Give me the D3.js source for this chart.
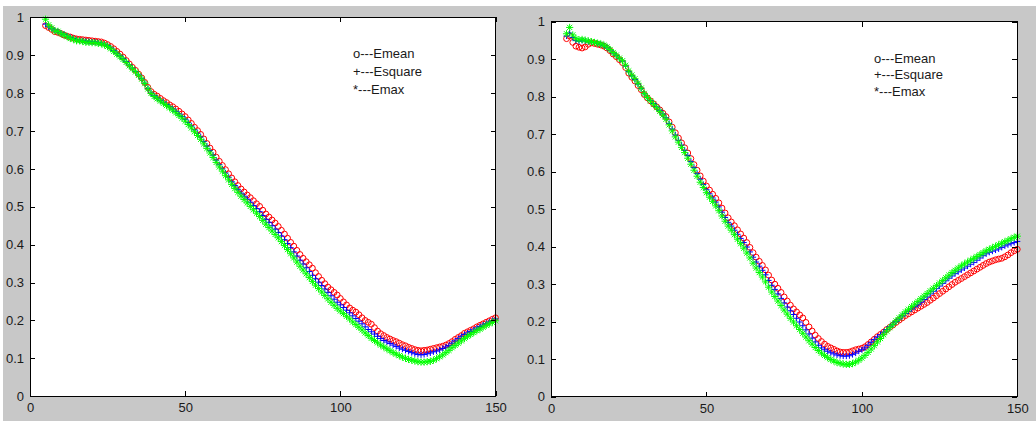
<!DOCTYPE html>
<html>
<head>
<meta charset="utf-8">
<script src="https://cdn.jsdelivr.net/npm/d3@7"></script>
<style>
  html, body { margin: 0; padding: 0; background: #fff; }
  svg { display: block; font-family: "Liberation Sans", Arial, sans-serif; }
</style>
</head>
<body>
<div id="chart"></div>
<script>
// sample index (x axis)
var xIdx = [5,6,7,8,9,10,11,12,13,14,15,16,17,18,19,20,21,22,23,24,25,26,27,28,29,30,
  31,32,33,34,35,36,37,38,39,40,41,42,43,44,45,46,47,48,49,50,51,52,53,54,55,56,57,58,59,60,
  61,62,63,64,65,66,67,68,69,70,71,72,73,74,75,76,77,78,79,80,81,82,83,84,85,86,87,88,89,90,
  91,92,93,94,95,96,97,98,99,100,101,102,103,104,105,106,107,108,109,110,111,112,113,114,115,
  116,117,118,119,120,121,122,123,124,125,126,127,128,129,130,131,132,133,134,135,136,137,138,
  139,140,141,142,143,144,145,146,147,148,149,150];

// left figure
var leftMean = [0.978,0.973,0.968,0.962,0.960,0.957,0.953,0.950,0.948,0.945,0.943,0.942,0.941,0.940,0.939,0.938,0.937,0.936,0.935,0.932,
  0.928,0.923,0.917,0.910,0.903,0.895,0.886,0.877,0.868,0.860,0.850,0.840,0.828,0.815,0.804,0.797,0.792,0.786,0.780,0.775,
  0.769,0.764,0.758,0.752,0.745,0.738,0.729,0.720,0.710,0.701,0.691,0.679,0.667,0.655,0.644,0.631,0.620,0.609,0.598,0.587,
  0.576,0.566,0.556,0.547,0.539,0.531,0.524,0.516,0.508,0.501,0.491,0.481,0.473,0.465,0.457,0.448,0.438,0.428,0.417,0.406,
  0.396,0.385,0.374,0.364,0.355,0.347,0.338,0.326,0.316,0.306,0.297,0.288,0.281,0.274,0.267,0.258,0.249,0.241,0.233,0.227,
  0.222,0.215,0.207,0.200,0.195,0.190,0.181,0.172,0.165,0.160,0.155,0.151,0.147,0.144,0.140,0.136,0.133,0.129,0.126,0.123,
  0.121,0.120,0.121,0.122,0.124,0.126,0.128,0.130,0.132,0.135,0.139,0.144,0.150,0.155,0.160,0.166,0.170,0.174,0.178,0.183,
  0.187,0.191,0.195,0.199,0.203,0.207];
var leftSquare = [0.982,0.975,0.970,0.966,0.962,0.958,0.955,0.950,0.947,0.944,0.941,0.940,0.938,0.937,0.936,0.935,0.935,0.933,0.932,0.929,
  0.925,0.919,0.912,0.905,0.898,0.891,0.883,0.874,0.866,0.857,0.848,0.838,0.826,0.812,0.800,0.793,0.787,0.781,0.776,0.770,
  0.764,0.758,0.752,0.745,0.738,0.731,0.722,0.713,0.703,0.694,0.684,0.672,0.660,0.648,0.636,0.623,0.611,0.600,0.589,0.578,
  0.566,0.556,0.546,0.536,0.528,0.520,0.512,0.503,0.495,0.487,0.477,0.467,0.459,0.450,0.441,0.432,0.423,0.413,0.403,0.392,
  0.381,0.370,0.359,0.349,0.339,0.329,0.319,0.310,0.301,0.292,0.283,0.274,0.265,0.256,0.248,0.241,0.234,0.227,0.220,0.212,
  0.205,0.198,0.191,0.183,0.176,0.170,0.164,0.158,0.152,0.147,0.143,0.139,0.135,0.131,0.127,0.124,0.121,0.118,0.115,0.112,
  0.110,0.109,0.110,0.112,0.114,0.117,0.119,0.122,0.126,0.130,0.134,0.140,0.146,0.152,0.158,0.163,0.167,0.171,0.175,0.180,
  0.184,0.188,0.192,0.196,0.200,0.204];
var leftMax = [0.995,0.980,0.972,0.964,0.963,0.957,0.953,0.949,0.944,0.942,0.938,0.938,0.936,0.934,0.934,0.933,0.933,0.931,0.930,0.927,
  0.923,0.917,0.910,0.903,0.896,0.889,0.881,0.872,0.864,0.856,0.847,0.837,0.825,0.811,0.799,0.791,0.785,0.779,0.773,0.767,
  0.761,0.755,0.748,0.741,0.734,0.726,0.717,0.708,0.698,0.688,0.678,0.666,0.654,0.642,0.630,0.617,0.605,0.594,0.582,0.571,
  0.559,0.548,0.538,0.528,0.519,0.510,0.501,0.492,0.483,0.474,0.464,0.454,0.445,0.436,0.427,0.418,0.408,0.398,0.387,0.376,
  0.365,0.354,0.343,0.333,0.323,0.313,0.303,0.293,0.284,0.275,0.266,0.257,0.248,0.240,0.232,0.225,0.218,0.211,0.204,0.196,
  0.189,0.182,0.175,0.167,0.160,0.153,0.147,0.141,0.135,0.130,0.125,0.120,0.115,0.111,0.107,0.103,0.100,0.097,0.095,0.093,
  0.091,0.090,0.090,0.091,0.092,0.095,0.099,0.104,0.109,0.115,0.121,0.128,0.134,0.140,0.146,0.152,0.158,0.163,0.168,0.173,
  0.177,0.182,0.187,0.191,0.195,0.199];

// right figure
var rightMean = [0.955,0.962,0.945,0.935,0.932,0.930,0.933,0.940,0.944,0.942,0.940,0.938,0.935,0.930,0.923,0.914,0.907,0.899,0.891,0.878,
  0.863,0.852,0.842,0.830,0.819,0.806,0.797,0.789,0.781,0.773,0.765,0.756,0.747,0.733,0.719,0.704,0.690,0.677,0.664,0.650,
  0.635,0.619,0.604,0.589,0.575,0.562,0.551,0.540,0.529,0.517,0.503,0.490,0.477,0.466,0.456,0.445,0.434,0.423,0.411,0.398,
  0.384,0.372,0.361,0.350,0.338,0.324,0.311,0.300,0.289,0.278,0.266,0.255,0.244,0.234,0.226,0.218,0.210,0.198,0.186,0.175,
  0.164,0.155,0.147,0.140,0.134,0.130,0.126,0.122,0.119,0.118,0.118,0.119,0.122,0.125,0.127,0.129,0.133,0.139,0.146,0.153,
  0.160,0.166,0.172,0.179,0.185,0.191,0.198,0.204,0.210,0.216,0.221,0.226,0.231,0.236,0.241,0.246,0.251,0.257,0.263,0.269,
  0.275,0.281,0.287,0.293,0.299,0.305,0.310,0.315,0.320,0.325,0.330,0.335,0.340,0.345,0.350,0.355,0.359,0.362,0.365,0.367,
  0.369,0.373,0.378,0.384,0.389,0.393];
var rightSquare = [0.962,0.970,0.958,0.950,0.948,0.950,0.949,0.947,0.946,0.944,0.942,0.940,0.937,0.932,0.925,0.917,0.910,0.902,0.895,0.882,
  0.867,0.856,0.846,0.834,0.822,0.808,0.798,0.790,0.782,0.773,0.764,0.754,0.744,0.729,0.714,0.698,0.684,0.671,0.657,0.643,
  0.627,0.611,0.595,0.580,0.566,0.552,0.541,0.530,0.519,0.506,0.492,0.478,0.465,0.455,0.444,0.433,0.422,0.411,0.399,0.386,
  0.372,0.359,0.348,0.337,0.325,0.310,0.297,0.286,0.274,0.262,0.250,0.239,0.229,0.219,0.209,0.199,0.189,0.178,0.167,0.156,
  0.146,0.137,0.130,0.125,0.121,0.117,0.114,0.111,0.109,0.108,0.108,0.109,0.112,0.116,0.121,0.125,0.130,0.137,0.145,0.152,
  0.159,0.165,0.172,0.179,0.186,0.193,0.200,0.207,0.215,0.222,0.228,0.234,0.240,0.245,0.252,0.259,0.266,0.274,0.281,0.288,
  0.295,0.302,0.309,0.316,0.322,0.328,0.333,0.338,0.343,0.348,0.353,0.358,0.364,0.370,0.376,0.381,0.385,0.388,0.391,0.394,
  0.398,0.402,0.405,0.408,0.411,0.414];
var rightMax = [0.968,0.985,0.965,0.955,0.952,0.953,0.951,0.949,0.947,0.945,0.943,0.941,0.938,0.933,0.926,0.918,0.911,0.903,0.896,0.884,
  0.869,0.858,0.848,0.836,0.823,0.809,0.798,0.789,0.780,0.771,0.761,0.751,0.740,0.725,0.709,0.693,0.679,0.665,0.651,0.636,
  0.620,0.604,0.588,0.572,0.558,0.544,0.532,0.521,0.509,0.496,0.482,0.468,0.455,0.444,0.432,0.420,0.408,0.396,0.383,0.370,
  0.356,0.343,0.331,0.319,0.306,0.292,0.279,0.267,0.255,0.243,0.231,0.220,0.209,0.199,0.189,0.179,0.169,0.159,0.149,0.140,
  0.131,0.123,0.116,0.110,0.104,0.099,0.095,0.091,0.089,0.087,0.086,0.086,0.088,0.092,0.097,0.103,0.110,0.118,0.127,0.136,
  0.146,0.155,0.165,0.175,0.184,0.193,0.202,0.210,0.218,0.226,0.233,0.240,0.247,0.254,0.261,0.268,0.275,0.282,0.289,0.296,
  0.303,0.310,0.317,0.324,0.331,0.337,0.343,0.349,0.354,0.359,0.364,0.369,0.374,0.379,0.384,0.389,0.393,0.397,0.401,0.405,
  0.409,0.413,0.417,0.421,0.425,0.428];

var xTicks = [0, 50, 100, 150];
var yTicks = [0, 0.1, 0.2, 0.3, 0.4, 0.5, 0.6, 0.7, 0.8, 0.9, 1];
var legendLabels = ["o---Emean", "+---Esquare", "*---Emax"];

var svg = d3.select("#chart")
  .append("svg")
  .attr("width", 1036)
  .attr("height", 424);

// figure background (grey, thin white margin round it)
svg.append("rect")
  .attr("x", 3).attr("y", 6)
  .attr("width", 1033).attr("height", 415)
  .attr("fill", "#c8c8c8");

var plusPath = "M-3,0H3M0,-3V3";
var starPath = "M-3.6,0H3.6M0,-3.6V3.6M-2.6,-2.6L2.6,2.6M-2.6,2.6L2.6,-2.6";

function drawPanel(left, right, top, bottom, legendGap, mean, square, max) {
  var x = d3.scaleLinear().domain([0, 150]).range([left, right]);
  var y = d3.scaleLinear().domain([0, 1]).range([bottom, top]);

  var g = svg.append("g");

  g.append("rect")
    .attr("x", left).attr("y", top)
    .attr("width", right - left).attr("height", bottom - top)
    .attr("fill", "#fff");

  // Emean: red circles
  g.append("g").selectAll("circle")
    .data(mean)
    .join("circle")
    .attr("cx", function(d, i) { return x(xIdx[i]); })
    .attr("cy", function(d) { return y(d); })
    .attr("r", 2.9)
    .attr("fill", "none")
    .attr("stroke", "#ff0000")
    .attr("stroke-width", 1);

  // Esquare: blue plus
  g.append("g").selectAll("path")
    .data(square)
    .join("path")
    .attr("transform", function(d, i) { return "translate(" + x(xIdx[i]) + "," + y(d) + ")"; })
    .attr("d", plusPath)
    .attr("fill", "none")
    .attr("stroke", "#0000ff")
    .attr("stroke-width", 1);

  // Emax: green stars
  g.append("g").selectAll("path")
    .data(max)
    .join("path")
    .attr("transform", function(d, i) { return "translate(" + x(xIdx[i]) + "," + y(d) + ")"; })
    .attr("d", starPath)
    .attr("fill", "none")
    .attr("stroke", "#00ff00")
    .attr("stroke-width", 1);

  // axes, ticks pointing inwards on all four sides
  var bottomAxis = g.append("g")
    .attr("transform", "translate(0," + bottom + ")")
    .call(d3.axisBottom(x).tickValues(xTicks).tickSizeInner(-5).tickSizeOuter(0).tickPadding(7)
      .tickFormat(function(d) { return String(d); }));
  var leftAxis = g.append("g")
    .attr("transform", "translate(" + left + ",0)")
    .call(d3.axisLeft(y).tickValues(yTicks).tickSizeInner(-5).tickSizeOuter(0).tickPadding(6)
      .tickFormat(function(d) { return String(d); }));
  var topAxis = g.append("g")
    .attr("transform", "translate(0," + top + ")")
    .call(d3.axisTop(x).tickValues(xTicks).tickSizeInner(-5).tickSizeOuter(0).tickFormat(""));
  var rightAxis = g.append("g")
    .attr("transform", "translate(" + right + ",0)")
    .call(d3.axisRight(y).tickValues(yTicks).tickSizeInner(-5).tickSizeOuter(0).tickFormat(""));

  [bottomAxis, leftAxis, topAxis, rightAxis].forEach(function(a) {
    a.select(".domain").remove();
    a.selectAll("line").attr("stroke", "#000").attr("shape-rendering", "crispEdges");
    a.selectAll("text")
      .attr("fill", "#1a1a1a")
      .style("font-size", "13px")
      .style("font-family", "'Liberation Sans', Arial, sans-serif");
  });

  g.append("rect")
    .attr("x", left).attr("y", top)
    .attr("width", right - left).attr("height", bottom - top)
    .attr("fill", "none")
    .attr("stroke", "#000")
    .attr("stroke-width", 1)
    .attr("shape-rendering", "crispEdges");

  // text legend
  g.append("g").selectAll("text")
    .data(legendLabels)
    .join("text")
    .attr("x", left + 323)
    .attr("y", function(d, i) { return top + 41 + i * legendGap; })
    .attr("fill", "#1a1a1a")
    .style("font-size", "13px")
    .text(function(d) { return d; });
}

drawPanel(30, 495.5, 17.3, 396.2, 18, leftMean, leftSquare, leftMax);
drawPanel(551, 1017.3, 21.8, 396.6, 16.5, rightMean, rightSquare, rightMax);
</script>
</body>
</html>
